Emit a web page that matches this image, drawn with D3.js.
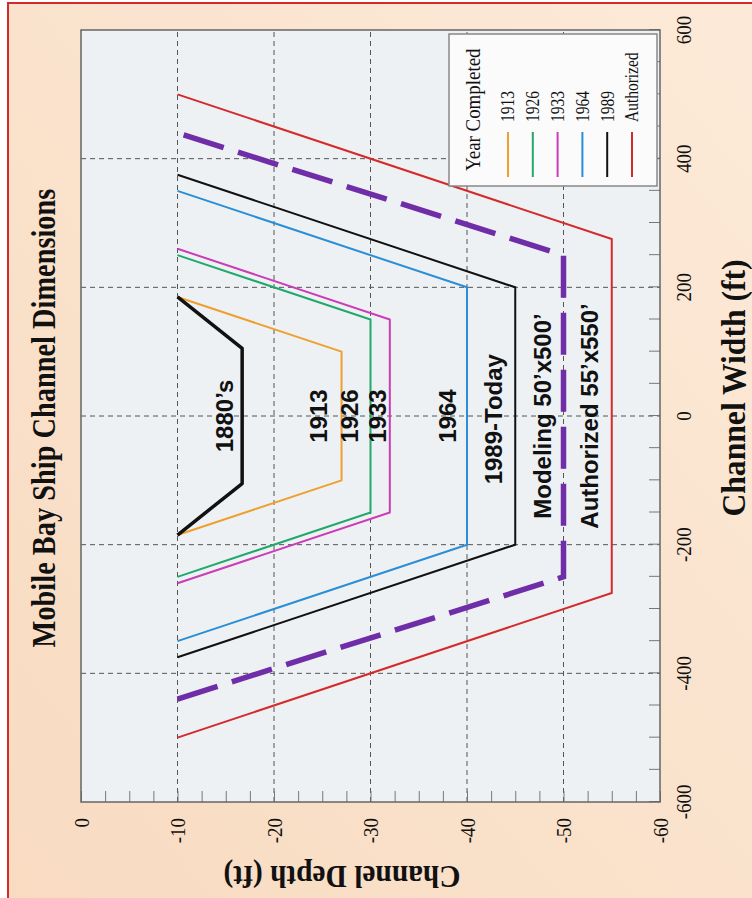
<!DOCTYPE html>
<html><head><meta charset="utf-8">
<script src="https://cdn.jsdelivr.net/npm/d3@7"></script>
<style>body{margin:0;background:#fff}svg{display:block}</style>
</head><body><svg id="c" width="752" height="898"></svg>
<script>
// ---------------- data ----------------
const widthTicks = [-600, -400, -200, 0, 200, 400, 600];
const depthTicks = [0, -10, -20, -30, -40, -50, -60];
const legendYears = ["1913", "1926", "1933", "1964", "1989", "Authorized"];
const legendColors = ["#EE9F2F", "#22A86B", "#CB3DB6", "#2A8ED6", "#111111", "#D42A2A"];
const topDepth = -10;
const topHalfWidth = [185, 250, 260, 350, 375, 500];
const bottomHalfWidth = [100, 150, 150, 200, 200, 275];
const bottomDepth = [-27, -30, -32, -40, -45, -55];
const early1880s = [[-185, -10], [-105, -16.7], [105, -16.7], [185, -10]];
const modeling = [[-440, -10], [-250, -50], [250, -50], [440, -10]];
const channelLabels = ["1880\u2019s", "1913", "1926", "1933", "1964", "1989-Today", "Modeling 50\u2019x500\u2019", "Authorized 55\u2019x550\u2019"];
const labelDepth = [-14.9, -24.6, -27.8, -30.7, -38.0, -42.8, -47.8, -52.7];
const labelWidth = [0, 0, 0, 0, 0, -5, 0, 0];

// ---------------- drawing ----------------
const svg = d3.select("#c");
const defs = svg.append("defs");
const bg = defs.append("linearGradient").attr("id", "bg").attr("x1", 1).attr("y1", 0).attr("x2", 0).attr("y2", 1);
bg.append("stop").attr("offset", 0).attr("stop-color", "#FCEAD8");
bg.append("stop").attr("offset", 1).attr("stop-color", "#F8DBC1");

svg.append("rect").attr("width", 752).attr("height", 898).attr("fill", "#fff");
svg.append("rect").attr("x", 8).attr("y", 3).attr("width", 760).attr("height", 910)
  .attr("fill", "url(#bg)").attr("stroke", "#D42A2A").attr("stroke-width", 2);

// everything in the un-rotated frame: W=898 wide, H=752 tall; then rotate -90
const g = svg.append("g").attr("transform", "translate(0,898) rotate(-90)");
const x = d3.scaleLinear().domain([-600, 600]).range([96, 868]);
const y = d3.scaleLinear().domain([0, -60]).range([81, 660]);
const serif = "'Liberation Serif','Times New Roman',serif";
const sans = "'Liberation Sans',Arial,Helvetica,sans-serif";
const SX = 0.86;

function ctext(parent, tx, ty, str, size, opts = {}) {
  const rot = opts.rotate ? ` rotate(${opts.rotate})` : "";
  return parent.append("text")
    .attr("transform", `translate(${tx},${ty})${rot} scale(${opts.sx ?? SX},1)`)
    .attr("text-anchor", opts.anchor || "middle")
    .attr("dy", opts.dy || "0.35em")
    .attr("font-family", opts.family || serif)
    .attr("font-weight", opts.weight || "normal")
    .attr("font-size", size)
    .attr("fill", "#111")
    .text(str);
}

// plot background
g.append("rect").attr("x", 96).attr("y", 81).attr("width", 772).attr("height", 579).attr("fill", "#EEF1F4");

// grid
g.append("g").selectAll("line").data(widthTicks.filter(d => Math.abs(d) < 600)).join("line")
  .attr("x1", d => x(d)).attr("x2", d => x(d)).attr("y1", 81).attr("y2", 660)
  .attr("stroke", "#555").attr("stroke-width", 1).attr("stroke-dasharray", "5,4");
g.append("g").selectAll("line").data(depthTicks.filter(d => d < 0 && d > -60)).join("line")
  .attr("x1", 96).attr("x2", 868).attr("y1", d => y(d)).attr("y2", d => y(d))
  .attr("stroke", "#555").attr("stroke-width", 1).attr("stroke-dasharray", "5,4");

// axes with inward minor ticks
const xAxis = d3.axisBottom(x).tickValues(d3.range(-600, 601, 50)).tickSize(-11).tickFormat("");
g.append("g").attr("transform", "translate(0,660)").call(xAxis)
  .call(a => a.select(".domain").remove())
  .call(a => a.selectAll("line").attr("stroke", "#777"));
const yAxis = d3.axisLeft(y).tickValues(d3.range(0, -60.1, -2.5)).tickSize(-11).tickFormat("");
g.append("g").attr("transform", "translate(96,0)").call(yAxis)
  .call(a => a.select(".domain").remove())
  .call(a => a.selectAll("line").attr("stroke", "#777"));

// tick labels
widthTicks.forEach(d => ctext(g, x(d), 683, String(d), 22));
depthTicks.forEach(d => ctext(g, 80, y(d), String(d), 22, { anchor: "end" }));

// series
const line = d3.line().x(d => x(d[0])).y(d => y(d[1]));
legendYears.forEach((yr, i) => {
  const pts = [[-topHalfWidth[i], topDepth], [-bottomHalfWidth[i], bottomDepth[i]],
               [bottomHalfWidth[i], bottomDepth[i]], [topHalfWidth[i], topDepth]];
  g.append("path").attr("d", line(pts)).attr("fill", "none")
    .attr("stroke", legendColors[i]).attr("stroke-width", 2);
});
g.append("path").attr("d", line(modeling)).attr("fill", "none")
  .attr("stroke", "#6F2DA8").attr("stroke-width", 5.5).attr("stroke-dasharray", "42,15");
g.append("path").attr("d", line(early1880s)).attr("fill", "none")
  .attr("stroke", "#111").attr("stroke-width", 3.5).attr("stroke-linejoin", "round");

// frame
g.append("rect").attr("x", 96).attr("y", 81).attr("width", 772).attr("height", 579)
  .attr("fill", "none").attr("stroke", "#666").attr("stroke-width", 1.5);

// channel labels
channelLabels.forEach((t, i) => ctext(g, x(labelWidth[i]), y(labelDepth[i]), t, 24,
  { family: sans, weight: "bold", sx: 1 }));

// legend
const lg = g.append("g");
lg.append("rect").attr("x", 712).attr("y", 449).attr("width", 152).attr("height", 208)
  .attr("fill", "#FBFBFC").attr("stroke", "#888").attr("stroke-width", 1.5);
ctext(lg, 727, 472, "Year Completed", 22, { anchor: "start" });
legendYears.forEach((yr, i) => {
  const cy = 508 + i * 24.8;
  lg.append("line").attr("x1", 721).attr("x2", 766).attr("y1", cy).attr("y2", cy)
    .attr("stroke", legendColors[i]).attr("stroke-width", 2);
  ctext(lg, 776, cy, yr, 18, { anchor: "start" });
});

// titles
ctext(g, 480, 43, "Mobile Bay Ship Channel Dimensions", 33, { weight: "bold" });
ctext(g, 510, 733, "Channel Width (ft)", 34, { weight: "bold", sx: 0.93 });
ctext(g, 21, 342, "Channel Depth (ft)", 32, { weight: "bold", rotate: -90, sx: 0.92 });
</script></body></html>
